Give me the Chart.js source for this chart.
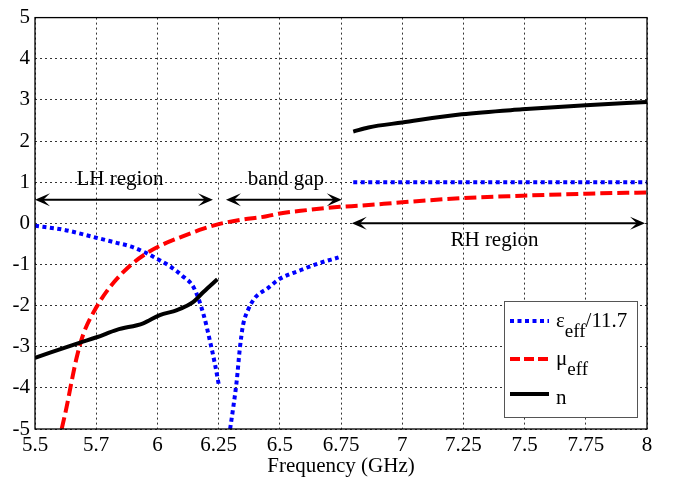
<!DOCTYPE html>
<html>
<head>
<meta charset="utf-8">
<script src="https://cdn.jsdelivr.net/npm/chart.js@4.4.1/dist/chart.umd.min.js"></script>
<style>
  html, body { margin: 0; padding: 0; background: #fff; }
  #wrap { width: 675px; height: 481px; }
</style>
</head>
<body>
<div id="wrap"><canvas id="grafica" width="675" height="481"></canvas></div>
<script>
// eps_eff / 11.7 (null = gap between branches)
const epsFreq = [5.5, 5.62, 5.75, 5.83, 5.89, 5.95, 6.0, 6.05, 6.1, 6.15, 6.19, 6.215, 6.235, 6.25,
  6.27,
  6.297, 6.31, 6.324, 6.337, 6.35, 6.37, 6.4, 6.45, 6.5, 6.58, 6.65, 6.74,
  6.77,
  6.8, 7.0, 7.5, 8.0];
const epsVal = [-0.06, -0.16, -0.35, -0.47, -0.56, -0.71, -0.87, -1.04, -1.27, -1.58, -2.25, -2.87, -3.42, -3.9,
  null,
  -5.0, -4.47, -3.83, -3.03, -2.47, -2.11, -1.8, -1.58, -1.35, -1.15, -0.99, -0.83,
  null,
  1.0, 1.0, 1.0, 1.0];

// mu_eff
const muFreq = [5.609, 5.629, 5.65, 5.67, 5.697, 5.752, 5.806, 5.888, 5.95, 6.024, 6.106, 6.188, 6.25,
  6.337, 6.446, 6.5, 6.61, 6.746, 6.83, 7.0, 7.24, 7.49, 7.75, 8.0];
const muVal = [-5.0, -4.47, -3.83, -3.27, -2.7, -2.03, -1.55, -1.03, -0.75, -0.51, -0.31, -0.13, -0.02,
  0.08, 0.17, 0.24, 0.32, 0.4, 0.43, 0.51, 0.61, 0.67, 0.72, 0.75];

// refractive index n
const nFreq = [5.5, 5.684, 5.752, 5.834, 5.942, 6.01, 6.08, 6.147, 6.188, 6.245,
  6.5,
  6.8, 6.862, 7.0, 7.243, 7.49, 7.75, 8.0];
const nVal = [-3.27, -2.9, -2.77, -2.59, -2.43, -2.23, -2.11, -1.91, -1.67, -1.36,
  null,
  2.23, 2.33, 2.45, 2.65, 2.77, 2.87, 2.95];

const xTicks = [5.5, 5.75, 6, 6.25, 6.5, 6.75, 7, 7.25, 7.5, 7.75, 8];
const xTickLabels = ['5.5', '5.7', '6', '6.25', '6.5', '6.75', '7', '7.25', '7.5', '7.75', '8'];
const yTicks = [-5, -4, -3, -2, -1, 0, 1, 2, 3, 4, 5];

const FONT = 'Liberation Serif, "Times New Roman", serif';

function pts(xs, ys) {
  return xs.map((v, i) => ({ x: v, y: ys[i] }));
}

function arrowHead(ctx, tx, ty, dir) {
  // filled head with swept-back notch, dir = +1 points right, -1 left
  const L = 15, W = 13;
  ctx.beginPath();
  ctx.moveTo(tx, ty);
  ctx.lineTo(tx - dir * L, ty - W / 2);
  ctx.lineTo(tx - dir * L * 0.55, ty);
  ctx.lineTo(tx - dir * L, ty + W / 2);
  ctx.closePath();
  ctx.fill();
}

function doubleArrow(ctx, x1, x2, y) {
  ctx.beginPath();
  ctx.moveTo(x1 + 6, y);
  ctx.lineTo(x2 - 6, y);
  ctx.stroke();
  arrowHead(ctx, x1, y, -1);
  arrowHead(ctx, x2, y, 1);
}

const extras = {
  id: 'extras',
  afterDatasetsDraw(chart) {
    const { ctx, chartArea: a, scales: { x, y } } = chart;
    ctx.save();
    ctx.strokeStyle = '#000';
    ctx.fillStyle = '#000';
    ctx.lineWidth = 2;

    doubleArrow(ctx, x.getPixelForValue(5.5), x.getPixelForValue(6.227), y.getPixelForValue(0.57));
    doubleArrow(ctx, x.getPixelForValue(6.28), x.getPixelForValue(6.753), y.getPixelForValue(0.57));
    doubleArrow(ctx, x.getPixelForValue(6.794), x.getPixelForValue(7.992), y.getPixelForValue(0.0));

    ctx.font = '21px ' + FONT;
    ctx.textAlign = 'center';
    ctx.textBaseline = 'alphabetic';
    ctx.fillText('LH region', x.getPixelForValue(5.847), y.getPixelForValue(0.92));
    ctx.fillText('band gap', x.getPixelForValue(6.525), y.getPixelForValue(0.92));
    ctx.fillText('RH region', x.getPixelForValue(7.377), y.getPixelForValue(-0.56));

    // legend box
    const bx = 504, by = 301, bw = 133, bh = 116;
    ctx.fillStyle = '#fff';
    ctx.fillRect(bx, by, bw, bh);
    ctx.strokeStyle = '#555';
    ctx.lineWidth = 1;
    ctx.strokeRect(bx + 0.5, by + 0.5, bw, bh);

    const rows = [
      { y: 321, color: '#0000ff', dash: [4, 3.5], sym: 'ε', tail: '/11.7', base: 327 },
      { y: 359, color: '#ff0000', dash: [10, 4], sym: 'μ', tail: '', base: 365 },
      { y: 394, color: '#000000', dash: [], sym: 'n', tail: '', base: 404 }
    ];
    rows.forEach(r => {
      ctx.strokeStyle = r.color;
      ctx.lineWidth = 4;
      ctx.setLineDash(r.dash);
      ctx.beginPath();
      ctx.moveTo(510, r.y);
      ctx.lineTo(549, r.y);
      ctx.stroke();
      ctx.setLineDash([]);

      ctx.fillStyle = '#000';
      ctx.textAlign = 'left';
      ctx.font = '21px ' + FONT;
      let tx = 556;
      ctx.fillText(r.sym, tx, r.base);
      tx += ctx.measureText(r.sym).width;
      if (r.sym !== 'n') {
        ctx.font = '19px ' + FONT;
        ctx.fillText('eff', tx, r.base + 10);
        tx += ctx.measureText('eff').width;
        ctx.font = '21px ' + FONT;
        ctx.fillText(r.tail, tx, r.base);
      }
    });

    // axes frame
    ctx.strokeStyle = '#000';
    ctx.lineWidth = 1.3;
    ctx.strokeRect(a.left, a.top, a.right - a.left, a.bottom - a.top);
    ctx.restore();
  }
};

const ctx = document.getElementById('grafica').getContext('2d');

new Chart(ctx, {
  type: 'line',
  data: {
    datasets: [
      {
        label: 'eps_eff/11.7',
        data: pts(epsFreq, epsVal),
        borderColor: '#0000ff',
        borderWidth: 4,
        borderDash: [4, 3.5],
        borderCapStyle: 'butt',
        pointRadius: 0,
        cubicInterpolationMode: 'monotone',
        spanGaps: false,
        order: 2
      },
      {
        label: 'mu_eff',
        data: pts(muFreq, muVal),
        borderColor: '#ff0000',
        borderWidth: 4,
        borderDash: [12, 5],
        pointRadius: 0,
        cubicInterpolationMode: 'monotone',
        order: 1
      },
      {
        label: 'n',
        data: pts(nFreq, nVal),
        borderColor: '#000000',
        borderWidth: 4,
        pointRadius: 0,
        cubicInterpolationMode: 'monotone',
        spanGaps: false,
        order: 0
      }
    ]
  },
  options: {
    responsive: false,
    animation: false,
    layout: { padding: { top: 12, right: 28, left: 0, bottom: 0 } },
    plugins: {
      legend: { display: false },
      tooltip: { enabled: false }
    },
    scales: {
      x: {
        type: 'linear',
        min: 5.5,
        max: 8,
        afterFit: s => { s.height = 52; },
        afterBuildTicks: s => { s.ticks = xTicks.map(v => ({ value: v })); },
        ticks: {
          color: '#000',
          font: { family: FONT, size: 21 },
          padding: 4,
          maxRotation: 0,
          autoSkip: false,
          callback: (v) => xTickLabels[xTicks.indexOf(v)]
        },
        grid: { color: '#333', lineWidth: 1, drawTicks: false },
        border: { display: false, dash: [2, 3] },
        title: {
          display: true,
          text: 'Frequency (GHz)',
          color: '#000',
          font: { family: FONT, size: 21 },
          padding: { top: 0, bottom: 2 }
        }
      },
      y: {
        min: -5,
        max: 5,
        afterFit: s => { s.width = 35; },
        afterBuildTicks: s => { s.ticks = yTicks.map(v => ({ value: v })); },
        ticks: {
          color: '#000',
          font: { family: FONT, size: 21 },
          padding: 5,
          callback: v => String(v)
        },
        grid: { color: '#333', lineWidth: 1, drawTicks: false },
        border: { display: false, dash: [2, 3] }
      }
    }
  },
  plugins: [extras]
});
</script>
</body>
</html>
